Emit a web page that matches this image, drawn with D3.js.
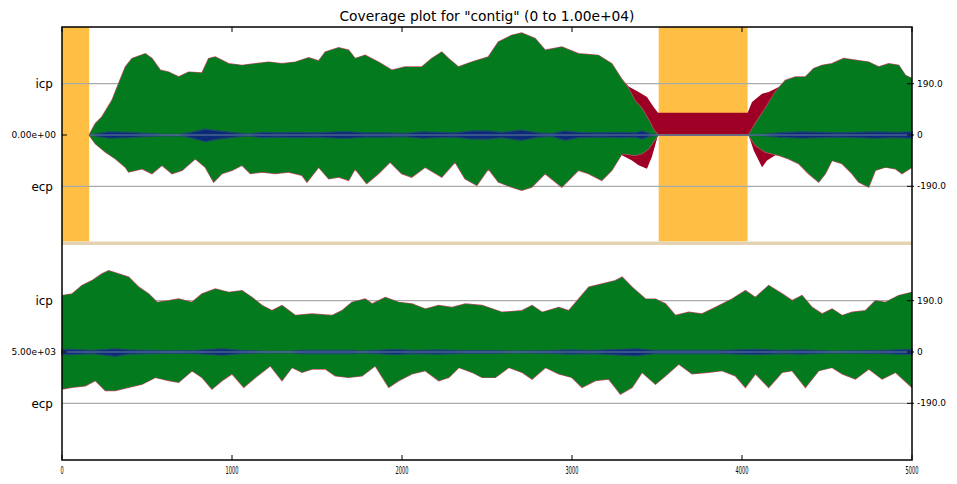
<!DOCTYPE html>
<html><head><meta charset="utf-8">
<script src="https://cdn.jsdelivr.net/npm/d3@7"></script>
<style>body{margin:0;background:#fff}svg{display:block}text{font-family:"DejaVu Sans",sans-serif}</style>
</head><body>
<svg id="c" width="957" height="484"></svg>
<script>
// ---------- data ----------
const title = 'Coverage plot for "contig" (0 to 1.00e+04)';
const xTicks = [0, 1000, 2000, 3000, 4000, 5000];
const yTicks = [190, 0, -190];
const yTickLabels = ["190.0", "0", "-190.0"];
const leftLabels = ["icp", "ecp"];
const panelStartLabels = ["0.00e+00", "5.00e+03"];
const orangeRegions = [[0, 160], [3510, 4033]];

// top panel (0 - 5000): proper (green) upper envelope
const topUpPos = [160,196,235,294,333,373,412,490,529,578,627,686,745,824,863,902,980,1059,1137,1216,1294,1373,1451,1510,1549,1627,1686,1724,1783,1861,1940,2018,2116,2175,2234,2273,2332,2410,2508,2567,2645,2704,2783,2842,2940,3038,3155,3234,3294,3333,3372,3412,3451,3480,3506,4039,4078,4137,4196,4255,4314,4373,4422,4471,4529,4598,4667,4745,4804,4863,4922,4961,5000];
const topUpCov = [0,42,67,128,190,252,283,301,283,240,233,215,233,230,283,289,264,258,264,270,264,270,286,274,307,323,314,283,295,270,240,252,252,283,307,283,252,270,289,344,369,378,357,314,326,301,295,264,205,172,125,98,55,20,0,0,42,98,159,202,215,215,246,258,264,283,277,270,252,264,258,221,209];
// top panel: proper (green) lower envelope
const topLoPos = [160,196,255,314,373,392,471,529,588,647,706,784,843,892,941,1000,1059,1108,1177,1255,1333,1412,1441,1510,1569,1627,1686,1724,1792,1861,1930,1998,2057,2136,2234,2312,2371,2440,2508,2567,2645,2704,2763,2842,2940,3038,3097,3175,3234,3294,3372,3412,3451,3506,4039,4078,4137,4216,4274,4333,4392,4451,4490,4529,4588,4647,4686,4745,4784,4843,4902,4941,5000];
const topLoCov = [0,-32,-63,-88,-119,-137,-125,-143,-112,-143,-131,-88,-119,-174,-143,-131,-112,-143,-137,-143,-137,-149,-174,-119,-162,-156,-168,-125,-180,-143,-100,-143,-156,-119,-156,-100,-162,-186,-125,-174,-193,-205,-193,-143,-193,-131,-143,-168,-131,-69,-75,-69,-51,0,0,-38,-63,-75,-88,-106,-143,-174,-143,-94,-106,-143,-174,-193,-131,-119,-125,-143,-119];
// top panel: total (red) coverage where it exceeds proper pairs
const redUpPos = [3290,3333,3392,3441,3480,3506,4033,4059,4118,4157,4216,4255];
const redUpCov = [210,180,159,141,104,82,82,122,153,159,178,202];
const redLoPos = [3294,3353,3392,3441,3470,3506,4039,4069,4118,4147,4196,4255];
const redLoCov = [-75,-94,-112,-125,-81,0,0,-57,-119,-94,-75,-75];
// top panel: blue band
const topBluePos = [160,275,392,490,588,686,745,843,922,1020,1098,1177,1275,1373,1490,1627,1686,1783,1900,2018,2116,2214,2312,2410,2508,2586,2704,2802,2881,2959,3038,3155,3293,3372,3412,3451,3506,4039,4137,4216,4274,4353,4471,4569,4667,4784,4902,5000];
const topBlueUp = [0,12,10,6,3,2,8,22,15,8,3,10,8,10,8,12,12,8,8,6,12,10,8,15,15,10,18,8,5,15,10,8,10,8,15,6,0,0,3,8,10,12,10,8,10,12,10,12];
const topBlueLo = [0,-12,-10,-6,-3,-2,-8,-25,-15,-8,-3,-10,-8,-10,-8,-12,-12,-8,-8,-6,-12,-10,-8,-15,-15,-10,-20,-8,-5,-20,-10,-8,-10,-8,-15,-6,0,0,-3,-8,-10,-12,-10,-8,-10,-12,-10,-12];

// bottom panel (5000 - 10000, shown as 0 - 5000)
const botUpPos = [0,59,118,176,235,275,333,392,451,510,559,627,686,765,824,902,980,1059,1118,1177,1235,1294,1373,1471,1588,1647,1706,1784,1824,1902,1981,2059,2137,2216,2294,2373,2471,2589,2706,2765,2824,2922,2981,3040,3099,3177,3255,3295,3353,3432,3491,3550,3608,3687,3765,3844,3942,4020,4079,4157,4236,4295,4353,4412,4471,4530,4589,4648,4726,4785,4844,4922,5000];
const botUpCov = [209,215,246,264,289,301,289,277,240,215,184,190,196,184,215,233,221,227,202,172,153,172,135,141,135,153,184,196,178,202,184,178,159,172,165,178,172,147,153,172,147,165,153,196,240,252,264,277,240,196,196,178,135,147,141,165,196,227,202,246,215,190,209,165,141,159,135,147,153,190,184,209,221];
const botLoPos = [0,59,137,196,255,314,392,471,549,627,686,765,824,882,941,1000,1069,1137,1226,1294,1353,1412,1471,1549,1608,1686,1765,1843,1922,1981,2059,2137,2216,2275,2334,2412,2471,2549,2628,2706,2765,2844,2922,3000,3059,3138,3216,3285,3353,3412,3491,3550,3628,3706,3804,3883,3961,4020,4079,4157,4236,4295,4373,4451,4530,4589,4667,4746,4824,4903,5000];
const botLoCov = [-137,-131,-125,-106,-143,-143,-131,-119,-94,-106,-112,-69,-94,-137,-106,-81,-131,-94,-51,-106,-57,-75,-63,-63,-88,-94,-88,-51,-131,-106,-81,-69,-106,-94,-57,-75,-94,-94,-57,-75,-100,-57,-81,-94,-131,-106,-100,-156,-131,-75,-119,-88,-44,-81,-75,-69,-88,-131,-81,-131,-75,-69,-131,-69,-57,-81,-100,-63,-100,-75,-131];
const botBluePos = [0,59,118,176,314,392,510,647,784,941,1059,1177,1333,1412,1510,1706,1765,1961,2059,2216,2353,2530,2667,2863,2981,3118,3373,3491,3726,3883,4079,4236,4353,4530,4824,5000];
const botBlueUp = [10,10,8,6,12,8,6,4,6,12,6,3,2,6,6,6,3,10,6,8,5,5,3,5,8,6,12,6,6,6,10,6,8,3,6,10];
const botBlueLo = [-10,-10,-8,-6,-16,-8,-6,-4,-6,-12,-6,-3,-2,-6,-6,-6,-3,-10,-6,-8,-5,-5,-3,-5,-8,-6,-14,-6,-6,-6,-10,-6,-8,-3,-6,-10];

// ---------- drawing ----------
const svg = d3.select("#c");
const L = 62, R = 912, T = 27, B = 460, MID = 243.5;
const x = d3.scaleLinear().domain([0, 5000]).range([L, R]);
const panels = [
  {y: d3.scaleLinear().domain([-400, 400]).range([243, 27]), top: T, bot: MID,
   up: [topUpPos, topUpCov], lo: [topLoPos, topLoCov], blue: [topBluePos, topBlueUp, topBlueLo],
   redUp: [redUpPos, redUpCov], redLo: [redLoPos, redLoCov], orange: orangeRegions, label: panelStartLabels[0]},
  {y: d3.scaleLinear().domain([-400, 400]).range([460, 244]), top: MID, bot: B,
   up: [botUpPos, botUpCov], lo: [botLoPos, botLoCov], blue: [botBluePos, botBlueUp, botBlueLo],
   redUp: null, redLo: null, orange: [], label: panelStartLabels[1]}
];
const zip = (p, v) => p.map((d, i) => [d, v[i]]);
const GREEN = "#037a1d", RED = "#9d0024", BLUE = "#0b2a78", ORANGE = "#ffbf45";

svg.append("text").attr("x", 487).attr("y", 21).attr("text-anchor", "middle")
  .attr("font-size", 13.8).text(title);

panels.forEach(P => {
  const y = P.y;
  const g = svg.append("g");
  P.orange.forEach(r => g.append("rect").attr("x", x(r[0])).attr("y", P.top).attr("width", x(r[1]) - x(r[0]))
    .attr("height", P.bot - P.top - 2).attr("fill", ORANGE));
  // guide lines
  [190, -190].forEach(v => g.append("line").attr("x1", L).attr("x2", R).attr("y1", y(v)).attr("y2", y(v))
    .attr("stroke", "#aaaaaa").attr("stroke-width", 1.3));
  const areaUp = d3.area().x(d => x(d[0])).y0(y(0)).y1(d => y(d[1]));
  const line = d3.line().x(d => x(d[0])).y(d => y(d[1]));
  // red (total) regions
  if (P.redUp) {
    g.append("path").datum(zip(...P.redUp)).attr("d", areaUp).attr("fill", RED);
    g.append("path").datum(zip(...P.redLo)).attr("d", areaUp).attr("fill", RED);
  }
  const up = zip(...P.up), lo = zip(...P.lo);
  // thin total-coverage outline
  [up, lo].forEach(d => g.append("path").datum(d).attr("d", line).attr("fill", "none")
    .attr("stroke", "#c0506a").attr("stroke-width", 1.4));
  [up, lo].forEach(d => g.append("path").datum(d).attr("d", areaUp).attr("fill", GREEN));
  // blue band
  const bp = P.blue[0].map((p, i) => [p, P.blue[1][i], P.blue[2][i]]);
  g.append("path").datum(bp).attr("d", d3.area().x(d => x(d[0])).y0(d => y(d[2])).y1(d => y(d[1])))
    .attr("fill", BLUE).attr("stroke", "#1d4a6a").attr("stroke-width", 1.2);
  g.append("line").attr("x1", x(P.blue[0][0])).attr("x2", x(P.blue[0][P.blue[0].length - 1]))
    .attr("y1", y(0)).attr("y2", y(0)).attr("stroke", "#6f88a0").attr("stroke-width", 0.9);
  // left labels
  g.append("text").attr("x", 53).attr("y", y(190)).attr("dy", "0.35em").attr("text-anchor", "end")
    .attr("font-size", 12).text(leftLabels[0]);
  g.append("text").attr("x", 53).attr("y", y(-190)).attr("dy", "0.35em").attr("text-anchor", "end")
    .attr("font-size", 12).text(leftLabels[1]);
  g.append("text").attr("x", 56).attr("y", y(0)).attr("dy", "0.35em").attr("text-anchor", "end")
    .attr("font-size", 9).text(P.label);
  g.append("line").attr("x1", L).attr("x2", L + 5).attr("y1", y(0)).attr("y2", y(0)).attr("stroke", "#000");
  // right axis
  yTicks.forEach((v, i) => {
    g.append("line").attr("x1", R - 5).attr("x2", R + 2).attr("y1", y(v)).attr("y2", y(v)).attr("stroke", "#000");
    g.append("text").attr("x", R + 5).attr("y", y(v)).attr("dy", "0.35em").attr("font-size", 9).text(yTickLabels[i]);
  });
});

// separator band
svg.append("rect").attr("x", L).attr("y", 241.5).attr("width", R - L).attr("height", 3.5).attr("fill", "#e4d3b3");

// x ticks (inward, top and bottom)
xTicks.forEach(v => {
  svg.append("line").attr("x1", x(v)).attr("x2", x(v)).attr("y1", T).attr("y2", T + 5).attr("stroke", "#000");
  svg.append("line").attr("x1", x(v)).attr("x2", x(v)).attr("y1", B - 5).attr("y2", B).attr("stroke", "#000");
  const s = String(v);
  svg.append("text").attr("x", x(v)).attr("y", 474).attr("text-anchor", "middle").attr("font-size", 10)
    .attr("textLength", s.length * 3.2).attr("lengthAdjust", "spacingAndGlyphs").text(s);
});

// frame
svg.append("rect").attr("x", L).attr("y", T).attr("width", R - L).attr("height", B - T)
  .attr("fill", "none").attr("stroke", "#000").attr("stroke-width", 1.5);
</script>
</body></html>
